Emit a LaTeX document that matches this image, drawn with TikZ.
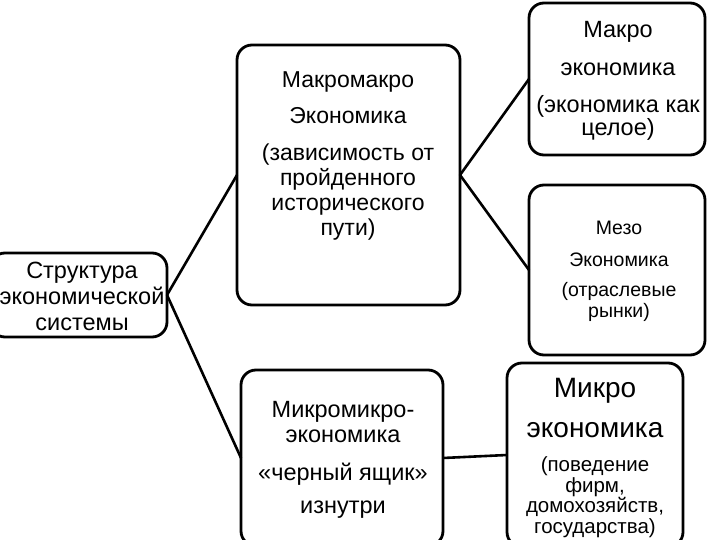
\documentclass[tikz,border=0pt]{standalone}
\usepackage{fontspec}
\setmainfont{Liberation Sans}
\usetikzlibrary{calc}
\begin{document}
\begin{tikzpicture}[x=1pt,y=-1pt,
  box/.style n args={2}{draw, line width=2.8pt, rounded corners=15pt, minimum width=#1, minimum height=#2, inner sep=0pt, outer sep=0pt},
  txt/.style={align=center, inner sep=0pt},
  conn/.style={line width=2.6pt}]
\useasboundingbox (0,0) rectangle (720,540);
\clip (0,0) rectangle (720,540);
% boxes
\node[box={177pt}{84pt}] (L) at (78.5,295) {};
\node[box={223pt}{260pt}] (MM) at (348.5,175) {};
\node[box={176pt}{152pt}] (Ma) at (617,79) {};
\node[box={176pt}{170pt}] (Me) at (617,270) {};
\node[box={202pt}{176pt}] (Mm) at (342,458) {};
\node[box={176pt}{184pt}] (Mi) at (595,455) {};
% texts
\node[txt, font={\fontsize{23.5}{26}\selectfont}] (Lt) at (82,296) {Структура\\экономической\\системы};
\node[txt, font={\fontsize{23}{25}\selectfont}] (MMt) at (348,156) {Макромакро\\[11pt]Экономика\\[12pt](зависимость от\\пройденного\\исторического\\пути)};
\node[txt, font={\fontsize{23.5}{23}\selectfont}] (Mat) at (618,81) {Макро\\[15pt]экономика\\[14pt](экономика как\\целое)};
\node[txt, font={\fontsize{19.5}{21}\selectfont}] (Met) at (619,271.5) {Мезо\\[11pt]Экономика\\[9pt](отраслевые\\рынки)};
\node[txt, font={\fontsize{23.5}{25}\selectfont}] (Mmt) at (343,460) {Микромикро-\\экономика\\[13pt]«черный ящик»\\[8pt]изнутри};
\node[txt, font={\fontsize{28}{40}\selectfont}] (Mit1) at (595,408) {Микро\\экономика};
\node[txt, font={\fontsize{20.5}{20.5}\selectfont}] (Mit2) at (595,497) {(поведение\\фирм,\\домохозяйств,\\государства)};
% connectors
\draw[conn] (L.east) -- (MM.west);
\draw[conn] (L.east) -- (Mm.west);
\draw[conn] (MM.east) -- (Ma.west);
\draw[conn] (MM.east) -- (Me.west);
\draw[conn] (Mm.east) -- (Mi.west);
\end{tikzpicture}
\end{document}
